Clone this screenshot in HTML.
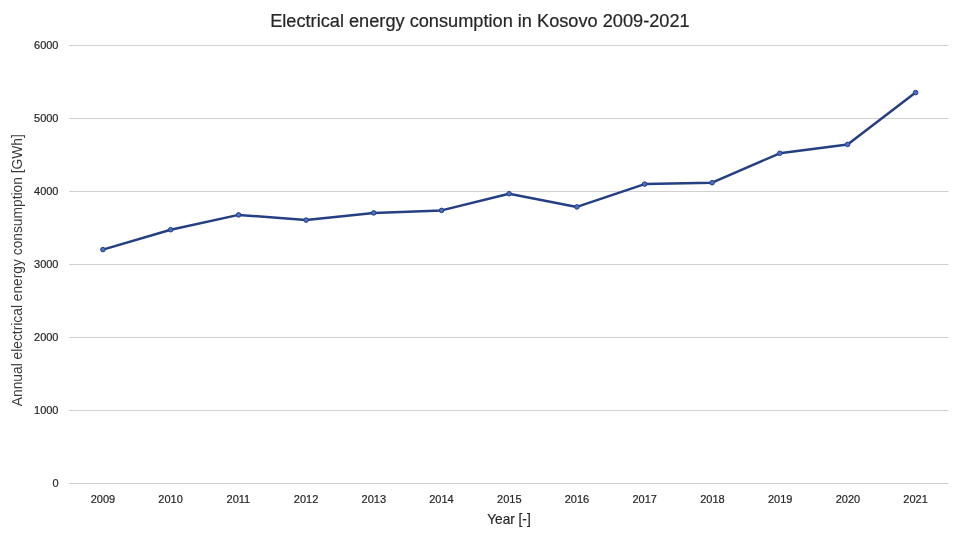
<!DOCTYPE html>
<html>
<head>
<meta charset="utf-8">
<style>
html,body{margin:0;padding:0;background:#fff;}
body{width:960px;height:540px;overflow:hidden;}
svg{display:block;}
text{font-family:"Liberation Sans", sans-serif;stroke:#262626;stroke-width:0.2px;}
svg{will-change:transform;}
</style>
</head>
<body>
<svg width="960" height="540" viewBox="0 0 960 540">
<rect x="0" y="0" width="960" height="540" fill="#fff"/>
<!-- gridlines -->
<g stroke="#d0d0d0" stroke-width="1">
<line x1="69" y1="45.5" x2="948.5" y2="45.5"/>
<line x1="69" y1="118.5" x2="948.5" y2="118.5"/>
<line x1="69" y1="191.5" x2="948.5" y2="191.5"/>
<line x1="69" y1="264.5" x2="948.5" y2="264.5"/>
<line x1="69" y1="337.5" x2="948.5" y2="337.5"/>
<line x1="69" y1="410.5" x2="948.5" y2="410.5"/>
<line x1="69" y1="483.5" x2="948.5" y2="483.5"/>
</g>
<!-- title -->
<text x="270.2" y="27" font-size="18" fill="#262626" textLength="419.5" lengthAdjust="spacingAndGlyphs">Electrical energy consumption in Kosovo 2009-2021</text>
<!-- y tick labels -->
<g font-size="11" fill="#262626" text-anchor="end">
<text x="58.5" y="48.9">6000</text>
<text x="58.5" y="121.9">5000</text>
<text x="58.5" y="194.9">4000</text>
<text x="58.5" y="267.9">3000</text>
<text x="58.5" y="340.9">2000</text>
<text x="58.5" y="413.9">1000</text>
<text x="58.5" y="486.9">0</text>
</g>
<!-- x tick labels -->
<g font-size="11" fill="#262626" text-anchor="middle">
<text x="102.9" y="503">2009</text>
<text x="170.6" y="503">2010</text>
<text x="238.4" y="503">2011</text>
<text x="306.1" y="503">2012</text>
<text x="373.8" y="503">2013</text>
<text x="441.5" y="503">2014</text>
<text x="509.3" y="503">2015</text>
<text x="577.0" y="503">2016</text>
<text x="644.7" y="503">2017</text>
<text x="712.4" y="503">2018</text>
<text x="780.2" y="503">2019</text>
<text x="847.9" y="503">2020</text>
<text x="915.6" y="503">2021</text>
</g>
<!-- axis titles -->
<text x="487.2" y="524" font-size="14.5" fill="#262626" textLength="43.5" lengthAdjust="spacingAndGlyphs">Year [-]</text>
<text transform="translate(21.9,406.2) rotate(-90)" x="0" y="0" font-size="14.2" fill="#3a3a3a" style="stroke:none" textLength="272" lengthAdjust="spacingAndGlyphs">Annual electrical energy consumption [GWh]</text>
<!-- series -->
<polyline fill="none" stroke="#243f82" stroke-width="2.5" stroke-linejoin="round" stroke-linecap="round"
 points="102.9,249.6 170.7,229.7 238.6,214.9 306.1,220.1 373.7,212.9 441.6,210.4 509.1,193.7 576.9,206.9 644.6,184.1 712.1,182.7 779.7,153.3 847.6,144.4 915.6,92.6"/>
<g fill="#4d6fc6" stroke="#243f82" stroke-width="1">
<circle cx="102.9" cy="249.6" r="2.3"/>
<circle cx="170.7" cy="229.7" r="2.3"/>
<circle cx="238.6" cy="214.9" r="2.3"/>
<circle cx="306.1" cy="220.1" r="2.3"/>
<circle cx="373.7" cy="212.9" r="2.3"/>
<circle cx="441.6" cy="210.4" r="2.3"/>
<circle cx="509.1" cy="193.7" r="2.3"/>
<circle cx="576.9" cy="206.9" r="2.3"/>
<circle cx="644.6" cy="184.1" r="2.3"/>
<circle cx="712.1" cy="182.7" r="2.3"/>
<circle cx="779.7" cy="153.3" r="2.3"/>
<circle cx="847.6" cy="144.4" r="2.3"/>
<circle cx="915.6" cy="92.6" r="2.3"/>
</g>
</svg>
</body>
</html>
